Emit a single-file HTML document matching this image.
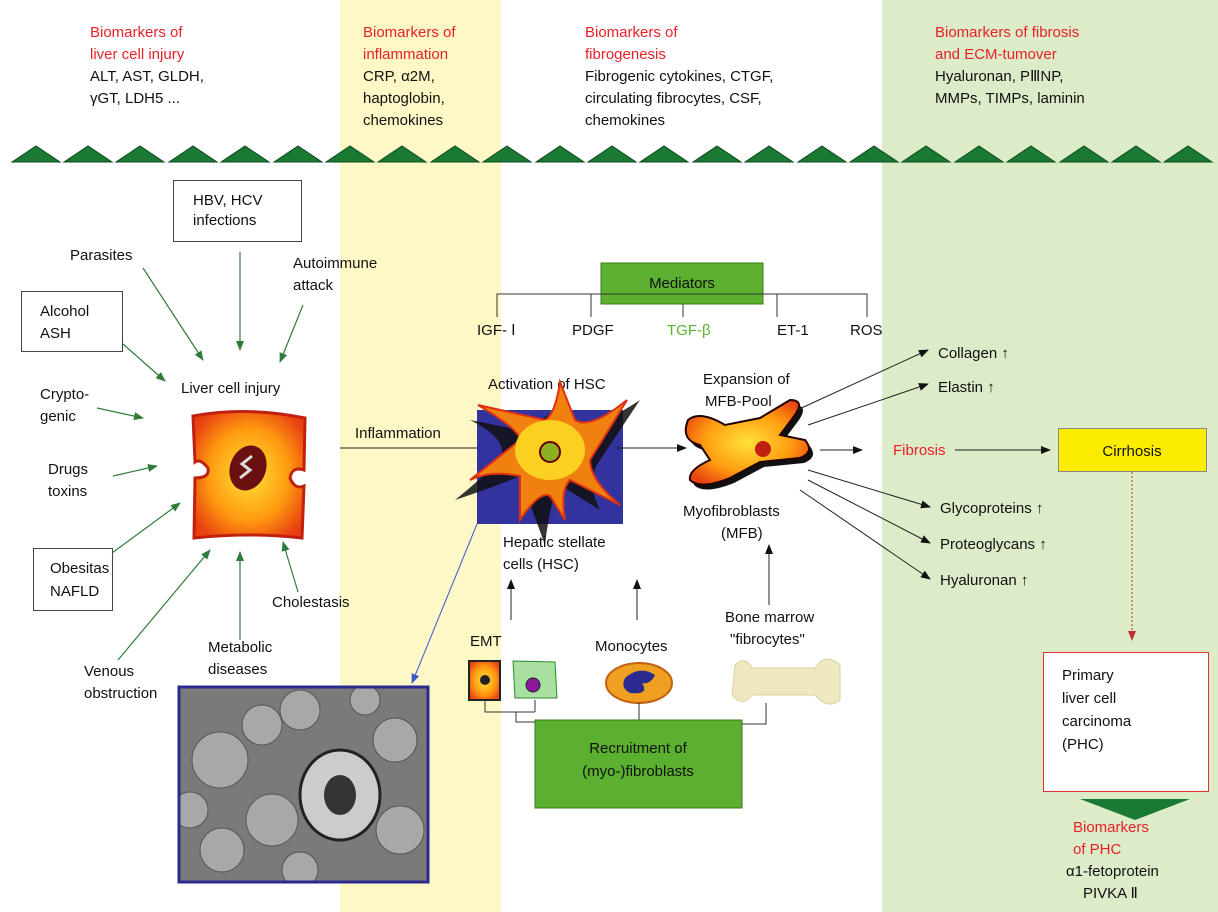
<!DOCTYPE html>
<html><head><meta charset="utf-8"><style>
html,body{margin:0;padding:0;background:#fff}
svg{display:block}
text{font-family:"Liberation Sans","DejaVu Sans",sans-serif;font-size:15px;fill:#111}
.r{fill:#e8202a}
</style></head><body>
<svg width="1218" height="912" viewBox="0 0 1218 912" xmlns="http://www.w3.org/2000/svg">
<defs>
<marker id="ag" markerWidth="10" markerHeight="8" refX="9" refY="4" orient="auto" markerUnits="userSpaceOnUse"><path d="M0,0 L10,4 L0,8 z" fill="#2e7d3a"/></marker>
<marker id="ak" markerWidth="10" markerHeight="8" refX="9" refY="4" orient="auto" markerUnits="userSpaceOnUse"><path d="M0,0 L10,4 L0,8 z" fill="#111"/></marker>
<marker id="ab" markerWidth="10" markerHeight="8" refX="9" refY="4" orient="auto" markerUnits="userSpaceOnUse"><path d="M0,0 L10,4 L0,8 z" fill="#3a5bd0"/></marker>
<marker id="ar" markerWidth="10" markerHeight="8" refX="9" refY="4" orient="auto" markerUnits="userSpaceOnUse"><path d="M0,0 L10,4 L0,8 z" fill="#c03030"/></marker>
<radialGradient id="og" cx="50%" cy="50%" r="60%"><stop offset="0" stop-color="#ffe23a"/><stop offset="0.6" stop-color="#ff9a10"/><stop offset="1" stop-color="#e84010"/></radialGradient>
<clipPath id="mc"><rect x="179" y="687" width="249" height="195"/></clipPath>
</defs>
<rect x="340" y="0" width="161" height="912" fill="#fdf8c6"/>
<rect x="882" y="0" width="336" height="912" fill="#dcebc8"/>

<text x="90" y="37" class="r">Biomarkers of</text><text x="90" y="59" class="r">liver cell injury</text>
<text x="90" y="81">ALT, AST, GLDH,</text><text x="90" y="103">γGT, LDH5 ...</text>
<text x="363" y="37" class="r">Biomarkers of</text><text x="363" y="59" class="r">inflammation</text>
<text x="363" y="81">CRP, α2M,</text><text x="363" y="103">haptoglobin,</text><text x="363" y="125">chemokines</text>
<text x="585" y="37" class="r">Biomarkers of</text><text x="585" y="59" class="r">fibrogenesis</text>
<text x="585" y="81">Fibrogenic cytokines, CTGF,</text><text x="585" y="103">circulating fibrocytes, CSF,</text><text x="585" y="125">chemokines</text>
<text x="935" y="37" class="r">Biomarkers of fibrosis</text><text x="935" y="59" class="r">and ECM-tumover</text>
<text x="935" y="81">Hyaluronan, PⅢNP,</text><text x="935" y="103">MMPs, TIMPs, laminin</text>

<g fill="#1a7a34" stroke="#0d4a1e" stroke-width="1">
<path d="M12,162 L36,146 L60,162Z"/><path d="M64,162 L88,146 L112,162Z"/><path d="M116,162 L140,146 L164,162Z"/><path d="M169,162 L193,146 L217,162Z"/><path d="M221,162 L245,146 L269,162Z"/><path d="M274,162 L298,146 L322,162Z"/><path d="M326,162 L350,146 L374,162Z"/><path d="M378,162 L402,146 L426,162Z"/><path d="M431,162 L455,146 L479,162Z"/><path d="M483,162 L507,146 L531,162Z"/><path d="M536,162 L560,146 L584,162Z"/><path d="M588,162 L612,146 L636,162Z"/><path d="M640,162 L664,146 L688,162Z"/><path d="M693,162 L717,146 L741,162Z"/><path d="M745,162 L769,146 L793,162Z"/><path d="M798,162 L822,146 L846,162Z"/><path d="M850,162 L874,146 L898,162Z"/><path d="M902,162 L926,146 L950,162Z"/><path d="M955,162 L979,146 L1003,162Z"/><path d="M1007,162 L1031,146 L1055,162Z"/><path d="M1060,162 L1084,146 L1108,162Z"/><path d="M1112,162 L1136,146 L1160,162Z"/><path d="M1164,162 L1188,146 L1212,162Z"/>
</g>

<rect x="173.5" y="180.5" width="128" height="61" fill="#fff" stroke="#444"/>
<text x="193" y="205">HBV, HCV</text><text x="193" y="225">infections</text>
<rect x="21.5" y="291.5" width="101" height="60" fill="#fff" stroke="#444"/>
<text x="40" y="316">Alcohol</text><text x="40" y="338">ASH</text>
<rect x="33.5" y="548.5" width="79" height="62" fill="#fff" stroke="#444"/>
<text x="50" y="573">Obesitas</text><text x="50" y="596">NAFLD</text>
<text x="70" y="260">Parasites</text>
<text x="293" y="268">Autoimmune</text><text x="293" y="290">attack</text>
<text x="40" y="399">Crypto-</text><text x="40" y="421">genic</text>
<text x="48" y="474">Drugs</text><text x="48" y="496">toxins</text>
<text x="84" y="676">Venous</text><text x="84" y="698">obstruction</text>
<text x="208" y="652">Metabolic</text><text x="208" y="674">diseases</text>
<text x="272" y="607">Cholestasis</text>
<text x="181" y="393">Liver cell injury</text>
<g stroke="#2e7d3a" stroke-width="1.2" fill="none" marker-end="url(#ag)">
<line x1="143" y1="268" x2="203" y2="360"/><line x1="240" y1="252" x2="240" y2="350"/><line x1="303" y1="305" x2="280" y2="362"/>
<line x1="123" y1="344" x2="165" y2="381"/><line x1="97" y1="408" x2="143" y2="418"/><line x1="113" y1="476" x2="157" y2="466"/>
<line x1="112" y1="553" x2="180" y2="503"/><line x1="118" y1="660" x2="210" y2="550"/><line x1="240" y1="640" x2="240" y2="552"/><line x1="298" y1="592" x2="283" y2="542"/>
</g>
<path d="M193,416 Q246,406 305,418 L304,470 Q292,466 290,478 Q295,490 304,486 L302,538 Q250,532 194,538 L195,478 Q210,478 208,468 Q200,458 195,462 Z" fill="url(#og)" stroke="#c02010" stroke-width="3"/>
<ellipse cx="248" cy="468" rx="18" ry="23" fill="#6a1010" transform="rotate(20 248 468)"/>
<path d="M240,478 L250,470 L242,464 L252,456" stroke="#ddd" stroke-width="3" fill="none"/>

<text x="355" y="438">Inflammation</text>
<line x1="340" y1="448" x2="488" y2="448" stroke="#222" marker-end="url(#ak)"/>
<text x="488" y="389">Activation of HSC</text>
<rect x="477" y="410" width="146" height="114" fill="#3333a0"/>
<path d="M470,420 Q510,440 500,460 Q480,480 455,500 Q500,485 520,476 L545,545 Q550,500 560,485 L600,510 Q585,480 600,460 L640,400 Q595,430 575,425 L560,405 Q545,420 520,430 Z" fill="#111" opacity="0.85"/>
<path d="M478,405 Q520,430 520,440 L470,480 Q490,470 520,476 L520,520 Q540,490 550,496 L565,520 Q560,490 570,480 L620,505 Q590,480 590,460 L627,400 Q590,430 575,420 L560,382 Q555,415 545,420 Z" fill="#f08010" stroke="#e03010" stroke-width="2"/>
<ellipse cx="550" cy="450" rx="35" ry="30" fill="#fcd020"/>
<circle cx="550" cy="452" r="10" fill="#8ab020" stroke="#600" stroke-width="2"/>
<line x1="615" y1="448" x2="686" y2="448" stroke="#222" marker-end="url(#ak)"/>
<text x="503" y="547">Hepatic stellate</text><text x="503" y="569">cells (HSC)</text>
<text x="703" y="384">Expansion of</text><text x="705" y="406">MFB-Pool</text>
<path d="M692,425 Q704,415 729,430 L764,423 L794,405 Q809,405 799,420 L784,440 L809,445 Q819,457 804,463 L764,467 L734,483 Q704,495 694,485 Q692,475 714,465 L704,450 Q684,445 692,425Z" fill="#111"/>
<path d="M688,420 Q700,410 725,425 L760,418 L790,400 Q805,400 795,415 L780,435 L805,440 Q815,452 800,458 L760,462 L730,478 Q700,490 690,480 Q688,470 710,460 L700,445 Q680,440 688,420Z" fill="url(#og)" stroke="#200" stroke-width="2"/>
<circle cx="763" cy="449" r="8" fill="#c02010"/>
<text x="683" y="516">Myofibroblasts</text><text x="721" y="538">(MFB)</text>

<rect x="601" y="263" width="162" height="41" fill="#5cb030" stroke="#3a7a1a"/>
<text x="682" y="288" text-anchor="middle">Mediators</text>
<g stroke="#333" fill="none"><path d="M497,317 V294 H867 V317"/><line x1="591" y1="294" x2="591" y2="317"/><line x1="683" y1="304" x2="683" y2="317"/><line x1="777" y1="294" x2="777" y2="317"/></g>
<text x="477" y="335">IGF- Ⅰ</text><text x="572" y="335">PDGF</text><text x="667" y="335" style="fill:#5cb030">TGF-β</text><text x="777" y="335">ET-1</text><text x="850" y="335">ROS</text>

<g stroke="#222" fill="none" marker-end="url(#ak)">
<line x1="797" y1="410" x2="928" y2="350"/><line x1="808" y1="425" x2="928" y2="384"/>
<line x1="820" y1="450" x2="862" y2="450"/><line x1="955" y1="450" x2="1050" y2="450"/>
<line x1="808" y1="470" x2="930" y2="507"/><line x1="808" y1="480" x2="930" y2="543"/><line x1="800" y1="490" x2="930" y2="579"/>
</g>
<text x="938" y="358">Collagen ↑</text><text x="938" y="392">Elastin ↑</text>
<text x="893" y="455" class="r">Fibrosis</text>
<rect x="1058.5" y="428.5" width="148" height="43" fill="#fcec00" stroke="#888"/>
<text x="1132" y="456" text-anchor="middle">Cirrhosis</text>
<text x="940" y="513">Glycoproteins ↑</text><text x="940" y="549">Proteoglycans ↑</text><text x="940" y="585">Hyaluronan ↑</text>
<line x1="1132" y1="472" x2="1132" y2="640" stroke="#c03030" stroke-dasharray="2,2" marker-end="url(#ar)"/>
<rect x="1043.5" y="652.5" width="165" height="139" fill="#fff" stroke="#e03030"/>
<text x="1062" y="680">Primary</text><text x="1062" y="703">liver cell</text><text x="1062" y="726">carcinoma</text><text x="1062" y="749">(PHC)</text>
<path d="M1080,799 L1190,799 L1135,820Z" fill="#1a7a34"/>
<text x="1073" y="832" class="r">Biomarkers</text><text x="1073" y="854" class="r">of PHC</text>
<text x="1066" y="876">α1-fetoprotein</text><text x="1083" y="898">PIVKA Ⅱ</text>

<line x1="477" y1="524" x2="412" y2="683" stroke="#3a5bd0" marker-end="url(#ab)"/>
<rect x="179" y="687" width="249" height="195" fill="#7a7a7a"/>
<g clip-path="url(#mc)">
<g fill="#a8a8a8" stroke="#555"><circle cx="220" cy="760" r="28"/><circle cx="262" cy="725" r="20"/><circle cx="272" cy="820" r="26"/><circle cx="222" cy="850" r="22"/><circle cx="300" cy="710" r="20"/><circle cx="395" cy="740" r="22"/><circle cx="400" cy="830" r="24"/><circle cx="365" cy="700" r="15"/><circle cx="300" cy="870" r="18"/><circle cx="190" cy="810" r="18"/></g>
<ellipse cx="340" cy="795" rx="40" ry="45" fill="#ccc" stroke="#222" stroke-width="3"/>
<ellipse cx="340" cy="795" rx="16" ry="20" fill="#333"/>
</g>
<rect x="179" y="687" width="249" height="195" fill="none" stroke="#2a2a90" stroke-width="3"/>

<g stroke="#222" fill="none" marker-end="url(#ak)">
<line x1="511" y1="620" x2="511" y2="580"/><line x1="637" y1="620" x2="637" y2="580"/><line x1="769" y1="605" x2="769" y2="545"/>
</g>
<text x="470" y="646">EMT</text><text x="595" y="651">Monocytes</text>
<text x="725" y="622">Bone marrow</text><text x="730" y="644">"fibrocytes"</text>
<rect x="469" y="661" width="31" height="39" fill="url(#og)" stroke="#222" stroke-width="2"/>
<circle cx="485" cy="680" r="5" fill="#222"/>
<path d="M513,661 L555,662 L557,698 L515,698Z" fill="#a8e0a0" stroke="#2a8a2a"/>
<circle cx="533" cy="685" r="7" fill="#8a1a9a" stroke="#222"/>
<ellipse cx="639" cy="683" rx="33" ry="20" fill="#f0a020" stroke="#c06010" stroke-width="2"/>
<path d="M625,678 Q640,665 655,675 Q650,685 642,683 Q650,695 630,693 Q620,688 625,678Z" fill="#2a2a90"/>
<path d="M735,665 Q745,655 752,668 L815,668 Q825,652 840,665 L840,700 Q828,710 815,695 L752,695 Q742,708 732,695Z" fill="#f0e8c0" stroke="#d8d0a0"/>
<g stroke="#333" fill="none">
<path d="M485,700 V712 H535"/><path d="M535,700 V712"/><path d="M516,712 V722 H535"/>
<line x1="639" y1="703" x2="639" y2="720"/><path d="M766,703 V724 H742"/>
</g>
<rect x="535" y="720" width="207" height="88" fill="#5cb030" stroke="#3a7a1a"/>
<text x="638" y="753" text-anchor="middle">Recruitment of</text><text x="638" y="776" text-anchor="middle">(myo-)fibroblasts</text>
</svg>
</body></html>
